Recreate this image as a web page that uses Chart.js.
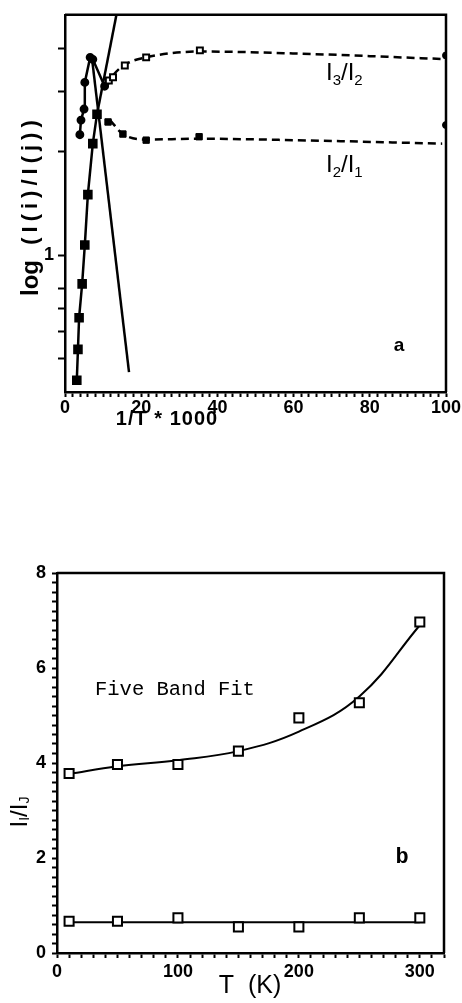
<!DOCTYPE html>
<html>
<head>
<meta charset="utf-8">
<script src="https://cdn.jsdelivr.net/npm/chart.js@4.4.0/dist/chart.umd.min.js"></script>
<style>
  html, body { margin: 0; padding: 0; background: #fff; }
  body { width: 462px; height: 1003px; position: relative; overflow: hidden; }
  canvas { position: absolute; left: 0; }
  #chartA { top: 0; }
  #chartB { top: 540px; }
</style>
</head>
<body>
<canvas id="chartA" width="462" height="440"></canvas>
<canvas id="chartB" width="462" height="463"></canvas>
<script>
// ---------- panel a : log(I(i)/I(j)) vs 1/T*1000 ----------
// I3/I2 open squares (flat part)
const xI32 = [11.5, 12.6, 15.7, 21.3, 35.4];
const yI32 = [3.22, 3.29, 3.56, 3.76, 3.94];
// I2/I1 filled points (flat part)
const xI21 = [11.3, 15.2, 21.3, 35.2];
const yI21 = [2.44, 2.25, 2.16, 2.21];
// points sitting on the right frame (x = 100)
const xEdge = [100, 100];
const yEdge = [3.81, 2.39];
// dashed fit curves
const xFit32 = [11.0, 12.6, 15.7, 21.3, 35.4, 60, 99];
const yFit32 = [3.10, 3.33, 3.58, 3.76, 3.91, 3.86, 3.72];
const xFit21 = [11.8, 15.2, 21.3, 35.2, 60, 99];
const yFit21 = [2.47, 2.25, 2.17, 2.18, 2.16, 2.11];
// steep part, rising to the peak
const xRise = [3.9, 4.2, 5.0, 5.2, 6.6, 7.3, 10.4];
const yRise = [2.24, 2.47, 2.66, 3.18, 3.76, 3.71, 3.10];
// steep part, falling to the bottom
const xDrop = [3.1, 3.4, 3.7, 4.5, 5.2, 6.0, 7.3, 8.4];
const yDrop = [0.433, 0.532, 0.658, 0.825, 1.07, 1.50, 2.11, 2.57];
// straight solid lines
const xLineA = [8.4, 13.5];
const yLineA = [2.57, 5.0];
const xLineB = [7.1, 16.8];
const yLineB = [3.72, 0.457];
const yTicksA = [0.5, 0.6, 0.7, 0.8, 1, 2, 3, 4];

// ---------- panel b : I_I/I_J vs T ----------
const tempsB = [10, 50, 100, 150, 200, 250, 300];
const upperB = [3.78, 3.97, 3.97, 4.25, 4.95, 5.27, 6.97];
const lowerB = [0.67, 0.67, 0.74, 0.55, 0.55, 0.74, 0.74];
const fitUpperB = [3.77, 3.93, 4.06, 4.25, 4.66, 5.40, 6.90];
const fitLowerB = [0.65, 0.65, 0.65, 0.65, 0.65, 0.65, 0.65];

const pts = (xs, ys) => xs.map((x, i) => ({ x: x, y: ys[i] }));

function drawParts(ctx, parts, x, y) {
  let cx = x;
  parts.forEach(p => {
    ctx.font = p.f;
    ctx.fillText(p.t, cx, y + (p.dy || 0));
    cx += ctx.measureText(p.t).width;
  });
}
function partsWidth(ctx, parts) {
  let w = 0;
  parts.forEach(p => { ctx.font = p.f; w += ctx.measureText(p.t).width; });
  return w;
}

// frame (top + right) and free texts
const framePlugin = {
  id: 'frame',
  afterDraw(chart, args, opts) {
    const ctx = chart.ctx, a = chart.chartArea;
    ctx.save();
    ctx.strokeStyle = '#000';
    ctx.lineWidth = 2.5;
    ctx.beginPath();
    ctx.moveTo(a.left, a.top);
    ctx.lineTo(a.right, a.top);
    ctx.lineTo(a.right, a.bottom);
    ctx.stroke();
    ctx.fillStyle = '#000';
    (opts.texts || []).forEach(t => {
      ctx.save();
      ctx.letterSpacing = t.spacing || '0px';
      ctx.textBaseline = t.baseline || 'alphabetic';
      ctx.textAlign = 'left';
      const w = partsWidth(ctx, t.parts);
      ctx.translate(t.x, t.y);
      if (t.rotate) ctx.rotate(-Math.PI / 2);
      const startX = t.align === 'center' ? -w / 2 : 0;
      drawParts(ctx, t.parts, startX, 0);
      ctx.restore();
    });
    ctx.restore();
  }
};

const sans = (size, bold) => (bold ? 'bold ' : '') + size + "px 'Liberation Sans', Arial, sans-serif";
const mono = (size, bold) => (bold ? 'bold ' : '') + size + "px 'Liberation Mono', 'Courier New', monospace";

// ---------- chart a ----------
new Chart(document.getElementById('chartA'), {
  type: 'scatter',
  data: {
    datasets: [
      { data: pts(xI32, yI32), showLine: false, pointStyle: 'rect', pointRadius: 4.2,
        borderColor: '#000', backgroundColor: '#fff', borderWidth: 2 },
      { data: pts(xI21, yI21), showLine: false, pointStyle: 'rect', pointRadius: 4.5,
        borderColor: '#000', backgroundColor: '#000', borderWidth: 1 },
      { data: pts(xEdge, yEdge), showLine: false, pointStyle: 'circle', pointRadius: 3.5,
        borderColor: '#000', backgroundColor: '#000', borderWidth: 1 },
      { data: pts(xRise, yRise), showLine: true, pointStyle: 'circle', pointRadius: 3.2,
        borderColor: '#000', backgroundColor: '#000', borderWidth: 2.5 },
      { data: pts(xDrop, yDrop), showLine: true, pointStyle: 'rect', pointRadius: 5,
        borderColor: '#000', backgroundColor: '#000', borderWidth: 2.5 },
      { data: pts(xLineA, yLineA), showLine: true, pointRadius: 0, borderColor: '#000', borderWidth: 2.5 },
      { data: pts(xLineB, yLineB), showLine: true, pointRadius: 0, borderColor: '#000', borderWidth: 2.5 },
      { data: pts(xFit32, yFit32), showLine: true, pointRadius: 0, borderColor: '#000', borderWidth: 2.5,
        borderDash: [8, 5], cubicInterpolationMode: 'monotone' },
      { data: pts(xFit21, yFit21), showLine: true, pointRadius: 0, borderColor: '#000', borderWidth: 2.5,
        borderDash: [8, 5], cubicInterpolationMode: 'monotone' }
    ]
  },
  options: {
    responsive: false,
    animation: false,
    layout: { padding: { top: 12, right: 16, left: 0, bottom: 0 } },
    plugins: {
      legend: { display: false },
      tooltip: { enabled: false },
      frame: {
        texts: [
          { parts: [{ t: 'log', f: sans(24, true) }], x: 31, y: 278, rotate: true, align: 'center', baseline: 'middle' },
          { parts: [{ t: '(I(i)/I(j))', f: sans(22, true) }], x: 31, y: 180, rotate: true, align: 'center', baseline: 'middle', spacing: '5px' },
          { parts: [{ t: '1/T * 1000', f: sans(20, true) }], x: 167, y: 419, align: 'center', baseline: 'middle', spacing: '1px' },
          { parts: [{ t: 'I', f: sans(24) }, { t: '3', f: sans(15), dy: 5 }, { t: '/I', f: sans(24) }, { t: '2', f: sans(15), dy: 5 }], x: 326, y: 80 },
          { parts: [{ t: 'I', f: sans(24) }, { t: '2', f: sans(15), dy: 5 }, { t: '/I', f: sans(24) }, { t: '1', f: sans(15), dy: 5 }], x: 326, y: 172 },
          { parts: [{ t: 'a', f: sans(19, true) }], x: 399, y: 346, align: 'center', baseline: 'middle' }
        ]
      }
    },
    scales: {
      x: {
        type: 'linear', min: 0, max: 100,
        afterFit: s => { s.height = 48; },
        border: { color: '#000', width: 2.5 },
        grid: { drawOnChartArea: false, tickLength: 5, tickWidth: 2, tickColor: '#000' },
        ticks: { stepSize: 2, autoSkip: false, maxRotation: 0, maxTicksLimit: 100, padding: 0,
          color: '#000', font: { family: "'Liberation Sans', Arial, sans-serif", size: 18, weight: 'bold' },
          callback: v => (v % 20 === 0 ? String(v) : '') }
      },
      y: {
        type: 'logarithmic', min: 0.4, max: 5,
        afterFit: s => { s.width = 65; },
        afterBuildTicks: s => { s.ticks = yTicksA.map(v => ({ value: v })); },
        border: { color: '#000', width: 2.5 },
        grid: { drawOnChartArea: false, tickLength: 7, tickWidth: 2, tickColor: '#000' },
        ticks: { autoSkip: false, padding: 4,
          color: '#000', font: { family: "'Liberation Sans', Arial, sans-serif", size: 18, weight: 'bold' },
          callback: v => (v === 1 ? '1' : '') }
      }
    }
  },
  plugins: [framePlugin]
});

// ---------- chart b ----------
const offB = 540;
new Chart(document.getElementById('chartB'), {
  type: 'scatter',
  data: {
    datasets: [
      { data: pts(tempsB, upperB), showLine: false, pointStyle: 'rect', pointRadius: 6.4,
        borderColor: '#000', backgroundColor: '#fff', borderWidth: 2 },
      { data: pts(tempsB, lowerB), showLine: false, pointStyle: 'rect', pointRadius: 6.4,
        borderColor: '#000', backgroundColor: '#fff', borderWidth: 2 },
      { data: pts(tempsB, fitUpperB), showLine: true, pointRadius: 0, borderColor: '#000', borderWidth: 2,
        tension: 0.4 },
      { data: pts(tempsB, fitLowerB), showLine: true, pointRadius: 0, borderColor: '#000', borderWidth: 2 }
    ]
  },
  options: {
    responsive: false,
    animation: false,
    layout: { padding: { top: 33, right: 18, left: 0, bottom: 0 } },
    plugins: {
      legend: { display: false },
      tooltip: { enabled: false },
      frame: {
        texts: [
          { parts: [{ t: 'I', f: sans(24) }, { t: 'I', f: sans(14), dy: 5 }, { t: '/I', f: sans(24) }, { t: 'J', f: sans(14), dy: 5 }],
            x: 20, y: 812 - offB, rotate: true, align: 'center', baseline: 'middle' },
          { parts: [{ t: 'T  (K)', f: sans(25) }], x: 250, y: 986 - offB, align: 'center', baseline: 'middle' },
          { parts: [{ t: 'Five Band Fit', f: mono(20.5) }], x: 95, y: 695 - offB },
          { parts: [{ t: 'b', f: mono(22, true) }], x: 402, y: 857 - offB, align: 'center', baseline: 'middle' }
        ]
      }
    },
    scales: {
      x: {
        type: 'linear', min: 0, max: 320,
        afterFit: s => { s.height = 50; },
        border: { color: '#000', width: 2.5 },
        grid: { drawOnChartArea: false, tickLength: 5, tickWidth: 2, tickColor: '#000' },
        ticks: { stepSize: 10, autoSkip: false, maxRotation: 0, maxTicksLimit: 100, padding: 3,
          color: '#000', font: { family: "'Liberation Sans', Arial, sans-serif", size: 18, weight: 'bold' },
          callback: v => (v % 100 === 0 ? String(v) : '') }
      },
      y: {
        type: 'linear', min: 0, max: 8,
        afterFit: s => { s.width = 57; },
        border: { color: '#000', width: 2.5 },
        grid: { drawOnChartArea: false, tickLength: 5, tickWidth: 2, tickColor: '#000' },
        ticks: { stepSize: 0.2, autoSkip: false, maxTicksLimit: 100, padding: 6,
          color: '#000', font: { family: "'Liberation Sans', Arial, sans-serif", size: 18, weight: 'bold' },
          callback: v => (Math.abs(v / 2 - Math.round(v / 2)) < 1e-6 ? String(Math.round(v)) : '') }
      }
    }
  },
  plugins: [framePlugin]
});
</script>
</body>
</html>
